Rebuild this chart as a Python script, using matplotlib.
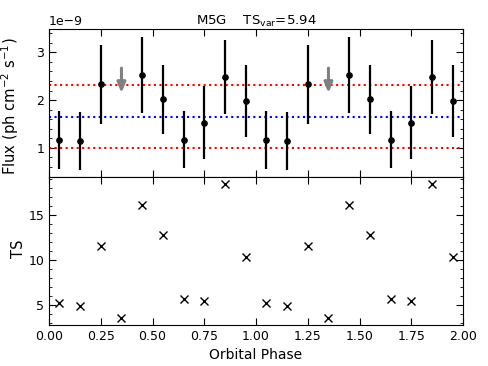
import numpy as np
import matplotlib
matplotlib.use("Agg")
import matplotlib.pyplot as plt
from matplotlib.ticker import AutoMinorLocator

# ---- data (one orbital cycle, shown twice) ----
phase_cycle = [0.05, 0.15, 0.25, 0.35, 0.45, 0.55, 0.65, 0.75, 0.85, 0.95]
flux_cycle = [1.17, 1.15, 2.33, np.nan, 2.53, 2.02, 1.175, 1.53, 2.48, 1.98]   # 1e-9
flux_err_cycle = [0.605, 0.61, 0.83, np.nan, 0.80, 0.72, 0.60, 0.765, 0.77, 0.76]
ul_phase_cycle = [0.35]
ul_value_cycle = [2.67]      # upper limit (arrow start)
ul_arrow_len = 0.52
ts_cycle = [5.18, 4.85, 11.51, 3.51, 16.1, 12.78, 5.62, 5.44, 18.48, 10.29]

mean_flux = 1.65
band_lo = 0.99
band_hi = 2.31
ts_var = 5.94
source = "M5G"

phase = np.concatenate([phase_cycle, np.array(phase_cycle) + 1])
flux = np.concatenate([flux_cycle, flux_cycle]) * 1e-9
flux_err = np.concatenate([flux_err_cycle, flux_err_cycle]) * 1e-9
ul_phase = np.concatenate([ul_phase_cycle, np.array(ul_phase_cycle) + 1])
ul_value = np.concatenate([ul_value_cycle, ul_value_cycle]) * 1e-9
ts = np.concatenate([ts_cycle, ts_cycle])

fig = plt.figure(figsize=(4.88, 3.66), dpi=100)
ax1 = fig.add_axes([0.1004, 0.5164, 0.8484, 0.4044])
ax2 = fig.add_axes([0.1004, 0.112, 0.8484, 0.4044], sharex=ax1)

ax1.errorbar(phase, flux, yerr=flux_err, fmt='o', color='black', ms=3.8, lw=1.6,
             capsize=0, zorder=3)
for xp, yv in zip(ul_phase, ul_value):
    ax1.annotate('', xy=(xp, yv - ul_arrow_len * 1e-9), xytext=(xp, yv),
                 arrowprops=dict(arrowstyle='-|>,head_width=0.25,head_length=0.6',
                                 color='gray', lw=2.2, shrinkA=0, shrinkB=0),
                 zorder=3)
ax1.axhline(band_hi * 1e-9, color='red', ls=':', lw=1.5)
ax1.axhline(band_lo * 1e-9, color='red', ls=':', lw=1.5)
ax1.axhline(mean_flux * 1e-9, color='blue', ls=':', lw=1.5)
ax1.set_ylim(0.39e-9, 3.49e-9)
ax1.set_ylabel(r'Flux (ph cm$^{-2}$ s$^{-1}$)', fontsize=10.6)
ax1.set_title(source + r'    TS$_{\rm var}$=' + f'{ts_var:.2f}', fontsize=9.5, pad=2.4)
plt.setp(ax1.get_xticklabels(), visible=False)

ax2.plot(phase, ts, 'x', color='black', ms=6, mew=1.0)
ax2.set_xlim(0, 2)
ax2.set_xticks([0, 0.25, 0.5, 0.75, 1.0, 1.25, 1.5, 1.75, 2.0])
ax2.set_ylabel('TS', fontsize=10.6)
ax2.set_xlabel('Orbital Phase', fontsize=10)

for ax in (ax1, ax2):
    ax.yaxis.set_minor_locator(AutoMinorLocator(5))
    ax.tick_params(which='both', direction='in', top=True, right=True, labelsize=9)
    ax.tick_params(which='major', length=5)
    ax.tick_params(which='minor', length=2.5)
ax1.yaxis.offsetText.set_fontsize(9)
ax1.yaxis.set_label_coords(-0.067, 0.475)
ax2.yaxis.set_label_coords(-0.055, 0.512)

fig.savefig('out.png', dpi=100)
